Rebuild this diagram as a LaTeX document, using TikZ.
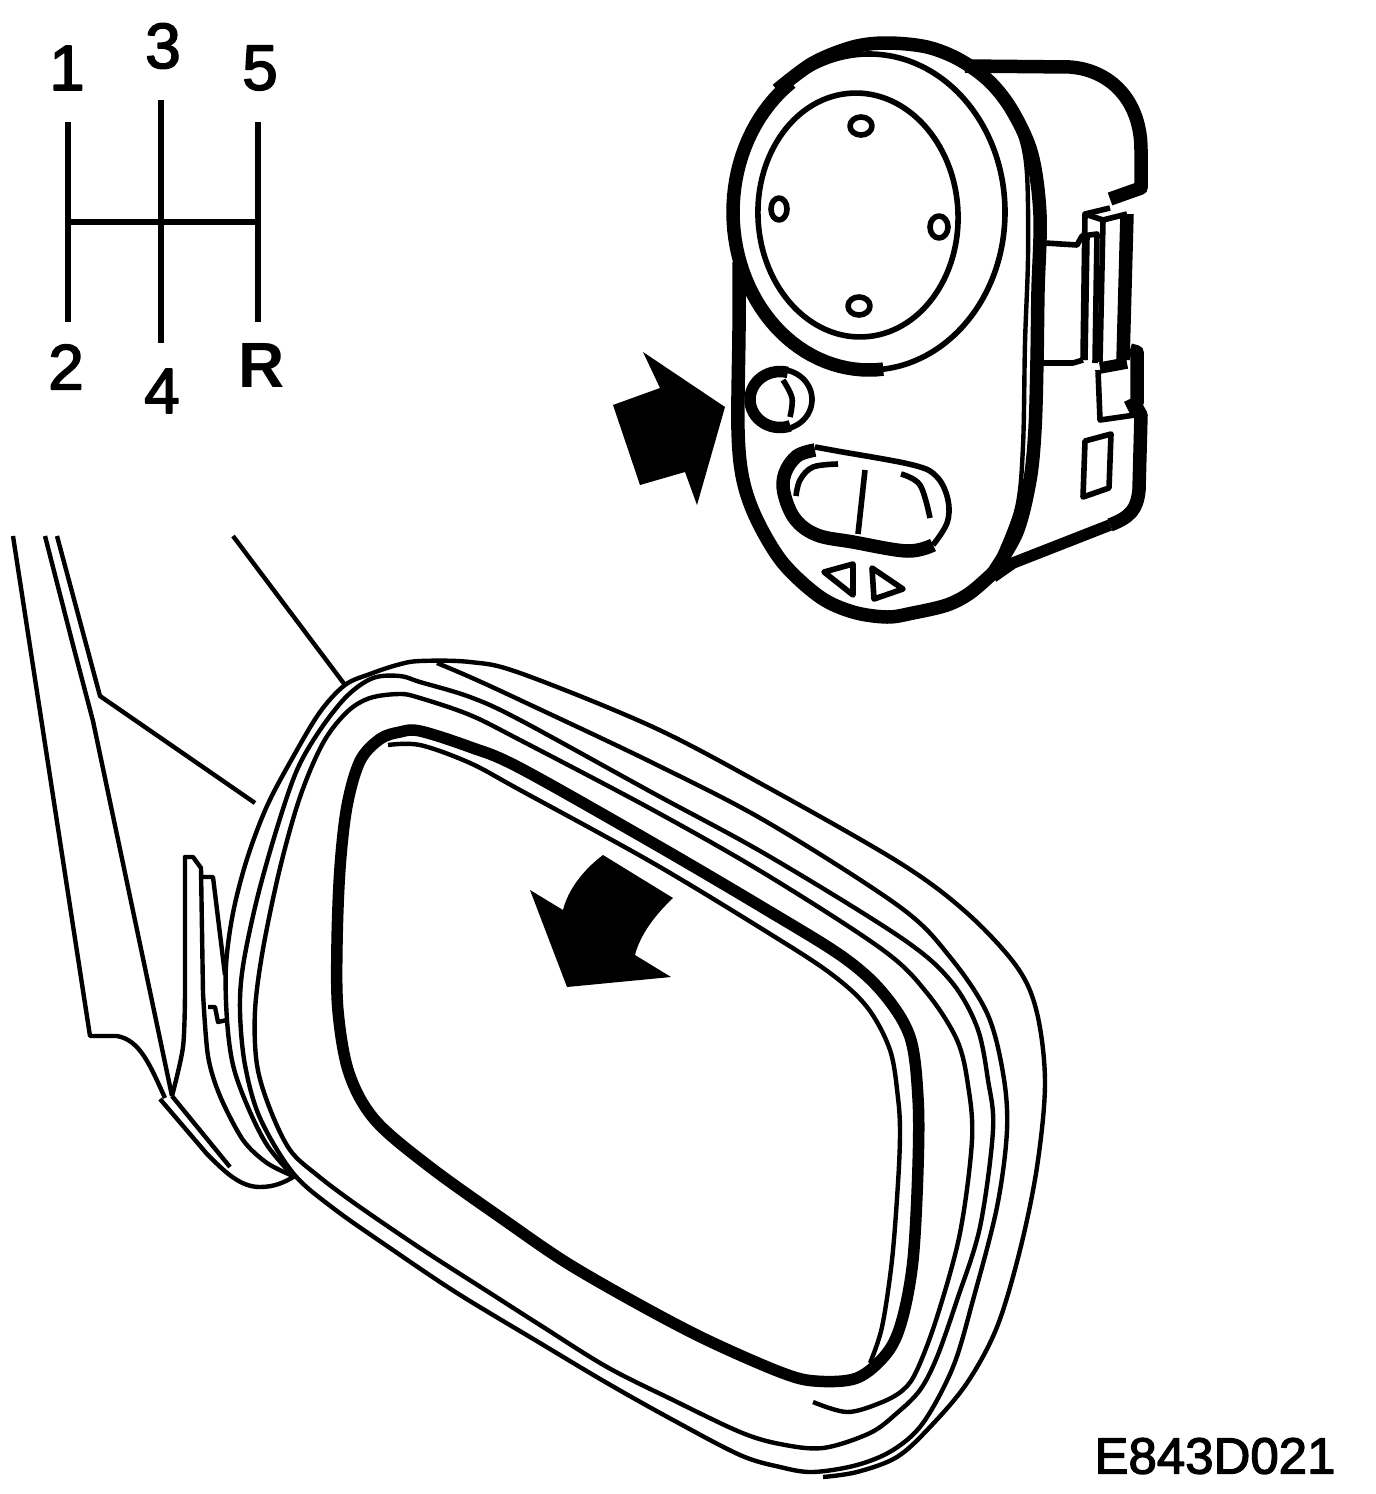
\documentclass[tikz,border=0pt]{standalone}
\usepackage{fontspec}
\setmainfont{Liberation Sans}
\newfontfamily\heavyfont[FakeBold=2.5]{Liberation Sans}
\begin{document}
\begin{tikzpicture}[x=1pt,y=-1pt,line join=round,
    thinline/.style={draw,line width=4.4pt},
    midline/.style={draw,line width=5.6pt},
    heavyline/.style={draw,line width=11.5pt},
    rimline/.style={draw,line width=13.5pt},
    gear/.style={font=\heavyfont\fontsize{64}{64}\selectfont,inner sep=0pt},
    code/.style={font=\heavyfont\fontsize{51}{51}\selectfont,inner sep=0pt}]
    \useasboundingbox (0,0) rectangle (1376,1494);
    % shift pattern
    \node[gear](n1) at (67,68){1};
    \node[gear](n3) at (163,46){3};
    \node[gear](n5) at (260,68){5};
    \node[gear](n2) at (66,367){2};
    \node[gear](n4) at (162,391){4};
    \node[gear,font=\fontsize{64}{64}\selectfont\bfseries](nR) at (262,365){R};
    \node[code](nCode) at (1215,1456){E843D021};
    \coordinate(t1) at (68,122);
    \coordinate(b2) at (68,322);
    \coordinate(t3) at (161,100);
    \coordinate(b4) at (161,343);
    \coordinate(t5) at (258,122);
    \coordinate(bR) at (258,322);
    \coordinate(ml) at (68,222);
    \coordinate(mr) at (258,222);
    \draw[midline](t1) -- (b2);
    \draw[midline](t3) -- (b4);
    \draw[midline](t5) -- (bR);
    \draw[midline](ml) -- (mr);
    % switch, front
    \draw[midline](869,212) ellipse (136 and 158);
    \draw[rimline] plot[domain=84:235,samples=50] ({869+136*cos(\x)},{212+158*sin(\x)});
    \draw[rimline] plot[smooth,tension=.55] coordinates {(777,90)(813,63)(853,47)(887,43)(927,47)(960,60)(990,82)(1013,112)(1032,155)(1040,215)(1038,291)(1037,360)(1035,429)(1030,480)(1017,532)(993,573)};
    \draw[rimline] plot[smooth,tension=.55] coordinates {(739,262)(739,330)(738,430)(743,480)(757,520)(783,563)(820,597)(853,612)(887,617)(913,613)(947,605)(970,593)(993,573)};
    \draw[midline,rotate around={3:(858,215)}](858,215) ellipse (100 and 122);
    \draw[midline](861,126) ellipse (11 and 9);
    \draw[midline](779,209) ellipse (8 and 11);
    \draw[midline](939,227) ellipse (9 and 11);
    \draw[midline](859,306) ellipse (11 and 9);
    \draw[thinline] plot[smooth,tension=.55] coordinates {(1003,100)(1020,135)(1027,174)(1028,257)(1025,343)(1023,446)(1017,508)(997,560)};
    % knob
    \draw[heavyline] plot[domain=70:285,samples=30] ({780+30*cos(\x)},{399.5+28*sin(\x)});
    \draw[midline] plot[domain=-80:80,samples=30] ({780+32*cos(\x)},{399.5+30*sin(\x)});
    \draw[midline] plot[smooth,tension=.6] coordinates {(783,380)(792,398)(790,417)};
    % rocker
    \draw[rimline] plot[smooth,tension=.6] coordinates {(815,450)(797,456)(785,473)(784,493)(795,519)(817,535)(853,542)(907,551)(933,545)};
    \draw[midline] plot[smooth,tension=.6] coordinates {(933,545)(947,523)(948,500)(937,477)(913,465)(837,451)(815,447)};
    \draw[midline] plot[smooth,tension=.6] coordinates {(796,496)(800,480)(813,467)(838,464)};
    \draw[midline] plot[smooth,tension=.6] coordinates {(901,474)(920,485)(930,518)};
    \draw[midline](865,470) -- (858,534);
    \draw[midline](824,572) -- (853,564) -- (853,595) -- cycle;
    \draw[midline](872,568) -- (903,589) -- (874,599) -- cycle;
    % switch, rear
    \draw[rimline](965,66) -- (1070,67) .. controls (1110,70) and (1141,100) .. (1141,150) -- (1141,188) -- (1110,199);
    \draw[midline](1045,243) -- (1077,245) -- (1082,236) -- (1097,234) -- (1095,363);
    \draw[midline](1043,363) -- (1073,363) -- (1083,360);
    \draw[midline](1083,360) -- (1085,214) -- (1110,208);
    \draw[midline](1087,236) -- (1085,360);
    \draw[midline](1103,220) -- (1100,362);
    \draw[midline](1085,214) -- (1103,220) -- (1127,214);
    \draw[rimline](1127,214) -- (1123,360);
    \draw[heavyline](1100,368) -- (1127,363);
    \draw[midline](1098,370) -- (1100,420) -- (1135,415);
    \draw[rimline](1130,350) -- (1137,352) -- (1137,403) -- (1127,408);
    \draw[rimline](1137,408) -- (1141,415) -- (1139,490) .. controls (1137,510) and (1130,517) .. (1110,525);
    \draw[heavyline](1110,525) -- (1013,563) -- (993,577);
    \draw[midline](1085,441) -- (1111,434) -- (1109,488) -- (1083,497) -- cycle;
    % black arrows
    \fill(643,352) -- (725,407) -- (697,505) -- (685,472) -- (640,485) -- (613,405) -- (660,388) -- cycle;
    \fill(603,855) -- (673,898) .. controls (655,915) and (640,935) .. (635,955) -- (671,977) -- (567,987) -- (530,890) -- (563,910) .. controls (568,890) and (583,870) .. (603,855) -- cycle;
    % arm
    \draw[thinline](13,536) -- (90,1036) -- (117,1036) .. controls (140,1040) and (150,1065) .. (165,1098);
    \draw[thinline](45,536) -- (73,645) -- (93,721) -- (172,1096);
    \draw[thinline](57,536) -- (100,696) -- (255,803);
    \draw[thinline](233,536) -- (345,685);
    \draw[thinline] plot[smooth,tension=.5] coordinates {(172,1096)(183,1047)(185,993)} -- (185,857) -- (193,857) -- (201,868) -- plot[smooth,tension=.5] coordinates {(203,993)(208,1056)(220,1096)(243,1140)(267,1163)(293,1176)};
    \draw[thinline](203,877) -- (213,877) -- (225,975);
    \draw[thinline](208,1007) -- (215,1007) -- (218,1022) -- (227,1020);
    \draw[thinline](172,1096) -- (230,1167);
    \draw[thinline](160,1099) -- (207,1154) .. controls (225,1172) and (240,1187) .. (260,1187) .. controls (275,1187) and (285,1182) .. (295,1176);
    % mirror frame
    \draw[heavyline] plot[smooth cycle,tension=.55] coordinates {(400,732)(380,739)(360,761)(347,806)(340,868)(337,944)(338,1011)(349,1073)(375,1120)(430,1167)(507,1222)(567,1263)(640,1305)(707,1340)(780,1372)(815,1381)(857,1378)(887,1353)(902,1320)(913,1260)(918,1167)(918,1098)(910,1037)(883,993)(843,957)(767,910)(653,843)(520,768)(470,747)(420,731)};
    \draw[thinline] plot[smooth,tension=.55] coordinates {(388,745)(420,745)(470,763)(520,790)(653,863)(767,932)(830,973)(867,1007)(890,1050)(898,1098)(900,1133)(898,1183)(892,1260)(882,1327)(870,1363)};
    % mirror shell
    \draw[thinline] plot[smooth,tension=.55] coordinates {(823,1477)(857,1472)(897,1457)(930,1427)(967,1383)(997,1327)(1020,1250)(1037,1167)(1045,1083)(1037,1013)(1017,967)(967,913)(900,863)(767,787)(653,727)(520,673)(470,662)(420,661)(397,665)(370,674)(345,685)(320,712)(293,757)(267,806)(247,859)(233,913)(226,966)(227,1020)(233,1065)(247,1105)(267,1145)(293,1176)};
    \draw[thinline] plot[smooth,tension=.55] coordinates {(813,1402)(847,1412)(880,1403)(903,1390)(917,1370)(937,1317)(960,1233)(972,1140)(968,1085)(957,1040)(927,993)(883,950)(767,875)(653,810)(520,740)(470,715)(420,698)(400,694)(370,698)(347,712)(323,743)(300,797)(280,868)(263,949)(255,1011)(257,1065)(270,1109)(290,1150)(317,1175)(357,1205)(423,1250)(490,1293)(540,1325)(607,1367)(673,1400)(740,1432)(780,1444)(823,1448)(870,1433)(897,1413)(920,1390)(937,1357)(957,1300)(980,1227)(993,1130)(988,1080)(977,1027)(950,980)(900,937)(767,855)(653,793)(520,720)(470,697)(420,682)(400,676)(373,678)(347,696)(320,730)(297,770)(277,828)(257,899)(243,966)(240,1011)(245,1065)(260,1118)(293,1173)(333,1208)(390,1248)(457,1293)(540,1343)(607,1383)(673,1420)(740,1455)(780,1467)(813,1472)(857,1465)(893,1450)(923,1423)(953,1367)(973,1300)(997,1207)(1007,1130)(1003,1073)(987,1013)(950,957)(900,907)(767,822)(653,763)(520,700)(470,677)(437,663)};
\end{tikzpicture}
\end{document}
